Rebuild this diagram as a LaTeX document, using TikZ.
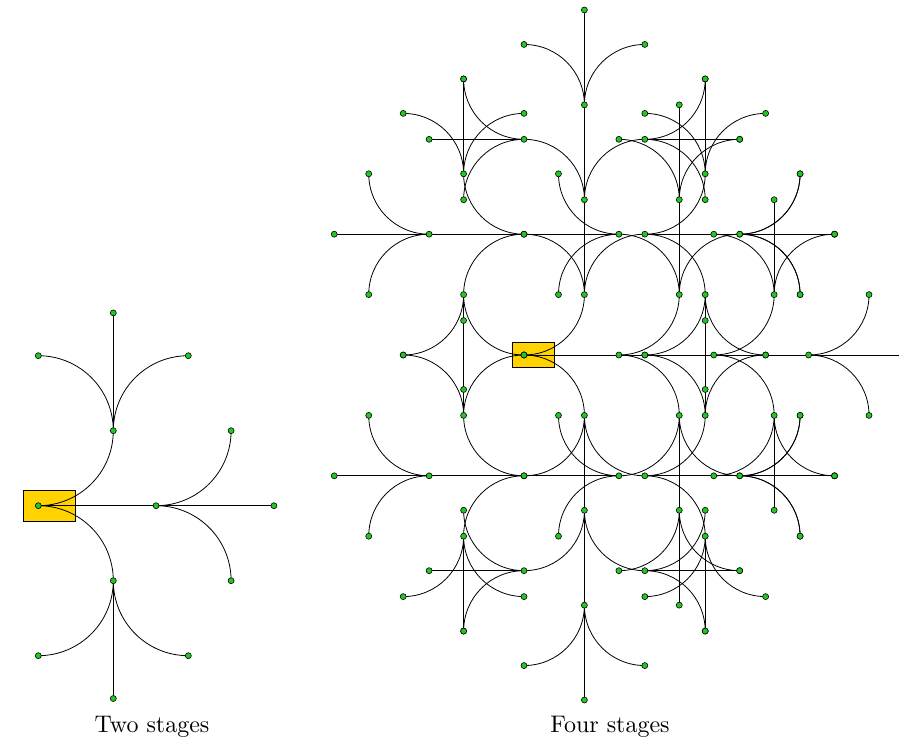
\documentclass[tikz,border=0pt]{standalone}
\pgfdeclarelayer{edges}
\pgfsetlayers{edges,main}
\definecolor{dotgreen}{RGB}{34,200,34}
\definecolor{boxyellow}{RGB}{255,210,0}
\tikzset{
  dot/.style={circle,draw=black,fill=dotgreen,line width=0.6pt,inner sep=0pt,minimum size=6pt},
  edge/.style={draw=black,line width=0.8pt},
  rootbox/.style={rectangle,draw=black,fill=boxyellow,line width=0.8pt,inner sep=0pt},
  caption/.style={anchor=base,inner sep=0pt,scale=2.4,transform shape}
}
\newcommand\growtree[4]{% #1 parent name, #2 direction, #3 depth, #4 radius
  \ifnum#3>0\relax
    \pgfmathsetmacro\gL{#4*pi/2}%
    \pgfmathtruncatemacro\gdl{#2+90}%
    \pgfmathtruncatemacro\gdr{#2-90}%
    \pgfmathtruncatemacro\gdd{#3-1}%
    \path (#1.center) ++(#2:\gL pt) node[dot] (#1s) {};
    \path (#1.center) ++(#2:#4pt) ++(\gdl:#4pt) node[dot] (#1l) {};
    \path (#1.center) ++(#2:#4pt) ++(\gdr:#4pt) node[dot] (#1r) {};
    \begin{pgfonlayer}{edges}
      \draw[edge] (#1.center) -- (#1s.center);
      \draw[edge] (#1.center) to[out=#2,in=\gdr] (#1l.center);
      \draw[edge] (#1.center) to[out=#2,in=\gdl] (#1r.center);
    \end{pgfonlayer}
    \edef\gnext{%
      \noexpand\growtree{#1s}{#2}{\gdd}{#4}%
      \noexpand\growtree{#1l}{\gdl}{\gdd}{#4}%
      \noexpand\growtree{#1r}{\gdr}{\gdd}{#4}}%
    \gnext
  \fi}
\begin{document}
\begin{tikzpicture}[x=1pt,y=1pt]
  \useasboundingbox (0,0) rectangle (899,740);
  \begin{pgfonlayer}{edges}
    \node[rootbox,minimum width=52.5pt,minimum height=30.6pt] (Lbox) at (49.55,234.3) {};
    \node[rootbox,minimum width=42.2pt,minimum height=24.6pt] (Rbox) at (533.2,385) {};
  \end{pgfonlayer}
  % left: two stages
  \node[dot] (L) at (38.3,234.3) {};
  \growtree{L}{0}{2}{75}
  % right: four stages
  \node[dot] (R) at (524,385) {};
  \growtree{R}{0}{4}{60.4}
  \node[caption] (cap1) at (152,8) {Two stages};
  \node[caption] (cap2) at (610,8) {Four stages};
\end{tikzpicture}
\end{document}
